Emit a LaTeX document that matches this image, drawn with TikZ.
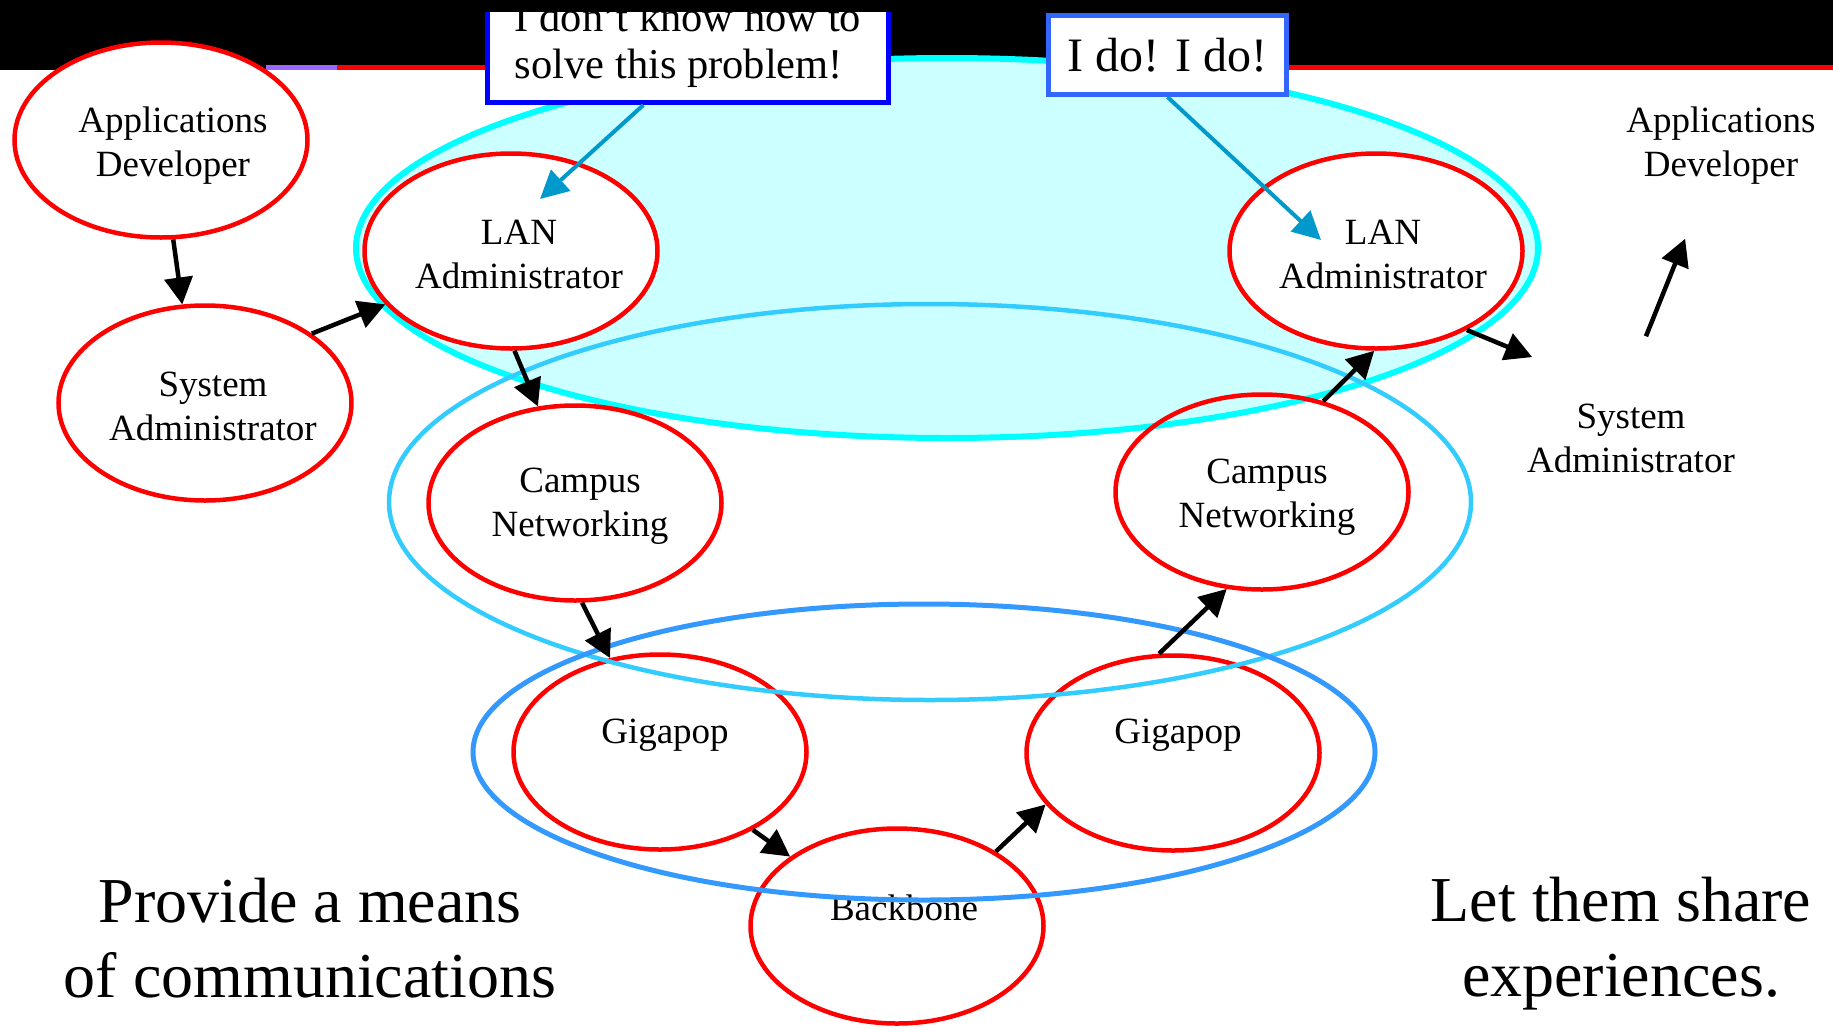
\documentclass[tikz,border=0pt]{standalone}
\usepackage{fontspec}
\setmainfont{Liberation Serif}
\usetikzlibrary{shapes.geometric,arrows.meta,calc}
\definecolor{cyanfill}{HTML}{CCFFFF}
\definecolor{cyanline}{HTML}{00FFFF}
\definecolor{skyline}{HTML}{33CCFF}
\definecolor{blueline}{HTML}{3399FF}
\definecolor{callcol}{HTML}{0099CC}
\definecolor{boxone}{HTML}{0000FF}
\definecolor{boxtwo}{HTML}{3366FF}
\definecolor{bandpurple}{HTML}{9966FF}
\definecolor{rolered}{HTML}{FF0000}
\begin{document}
\begin{tikzpicture}[x=1pt,y=-1pt,
  role/.style={ellipse, draw=rolered, line width=4.5pt, minimum width=293pt, minimum height=195pt, inner sep=0pt},
  lbl/.style={font=\fontsize{37}{44}\selectfont, align=center, inner sep=0pt},
  flow/.style={line width=4.5pt, -{Triangle[length=27pt,width=28pt]}},
  callarrow/.style={draw=callcol, line width=4pt, -{Triangle[length=28pt,width=28pt]}},
  big/.style={font=\fontsize{64}{75}\selectfont, align=center, inner sep=0pt},
]
\useasboundingbox (0,0) rectangle (1833,1028);
\fill[white] (0,0) rectangle (1833,1028);
% top band
\fill[black] (0,0) rectangle (1833,65);
\fill[black] (0,65) rectangle (266,70);
\fill[bandpurple] (266,65) rectangle (337,70);
\fill[rolered] (337,65) rectangle (1833,70);
% cyan group
\draw[draw=cyanline, fill=cyanfill, line width=6pt] (947,248) ellipse [x radius=591, y radius=190];
% role ellipses
\node[role, fill=white] (appL) at (161,140) {};
\node[role] (sysL) at (205,403) {};
\node[role, fill=white] (lanL) at (511,251) {};
\node[role] (campL) at (575,503) {};
\node[role] (gigL) at (660,752) {};
\node[role] (bb) at (897,926) {};
\node[role] (gigR) at (1173,753) {};
\node[role] (campR) at (1262,492) {};
\node[role, fill=white] (lanR) at (1376,251) {};
\node[role, draw=none] (sysR) at (1625,435) {};
\node[role, draw=none] (appR) at (1715,141) {};
% labels
\node[lbl] (tappL) at (173,146) {Applications\\Developer};
\node[lbl] (tsysL) at (213,406) {System\\Administrator};
\node[lbl] (tlanL) at (519,254) {LAN\\Administrator};
\node[lbl] (tcampL) at (580,506) {Campus\\Networking};
\node[lbl] (tgigL) at (665,735) {Gigapop};
\node[lbl] (tbb) at (904,908) {Backbone};
\node[lbl] (tgigR) at (1178,735) {Gigapop};
\node[lbl] (tcampR) at (1267,497) {Campus\\Networking};
\node[lbl] (tlanR) at (1383,254) {LAN\\Administrator};
\node[lbl] (tsysR) at (1631,438) {System\\Administrator};
\node[lbl] (tappR) at (1721,146) {Applications\\Developer};
% group outlines
\draw[draw=skyline, line width=4.5pt] (930,502) ellipse [x radius=541, y radius=198];
\draw[draw=blueline, line width=5pt] (924,752) ellipse [x radius=451, y radius=148];
% flow arrows
\draw[flow] (appL.-83) -- (sysL.103);
\draw[flow] (sysL.33) -- (lanL.203);
\draw[flow] (lanL.-88) -- (campL.111);
\draw[flow] (campL.-86) -- (gigL.118);
\draw[flow] (gigL.-40) -- (bb.147);
\draw[flow] (bb.37) -- (gigR.202);
\draw[flow] (gigR.98) -- (campR.250);
\draw[flow] (campR.56) -- (lanR.269);
\draw[flow] (lanR.-41) -- (sysR.140);
\draw[flow] (sysR.78) -- (appR.253);
% big texts
\node[big] (prov) at (310,938) {Provide a means\\of communications};
\node[big] (share) at (1621,944) {Let them share\\experiences.};
% callouts
\begin{scope}
\clip (0,12) rectangle (1833,1028);
\node[draw=boxone, line width=5pt, fill=white, minimum width=401pt, minimum height=116pt, inner sep=0pt,
  align=left, font=\fontsize{42.5}{47}\selectfont] (box1) at (688,44.5) {I don’t know how to\\solve this problem!};
\end{scope}
\node[draw=boxtwo, line width=5pt, fill=white, minimum width=238pt, minimum height=79pt, inner sep=0pt,
  font=\fontsize{48}{56}\selectfont] (box2) at (1167.5,55) {I do! I do!};
\coordinate (tip1) at (540,199);
\coordinate (tip2) at (1321,240);
\draw[callarrow] ($(box1.south west)!0.39!(box1.south east)$) -- (tip1);
\draw[callarrow] (box2.south) -- (tip2);
\end{tikzpicture}
\end{document}
